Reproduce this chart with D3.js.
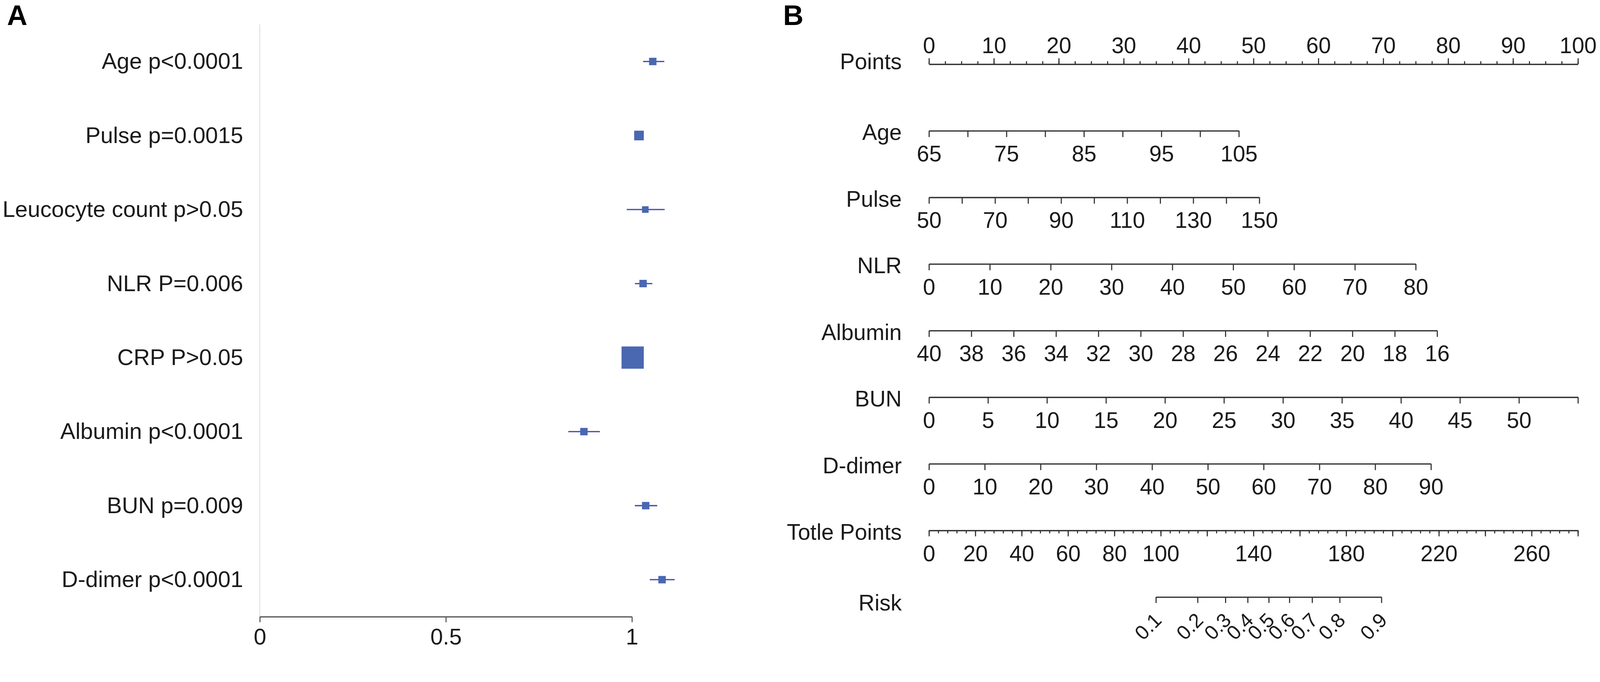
<!DOCTYPE html>
<html>
<head>
<meta charset="utf-8">
<script src="https://cdn.jsdelivr.net/npm/d3@7"></script>
<style>
  html, body { margin: 0; padding: 0; width: 100%; height: 100%; overflow: hidden; background: #fff; }
  svg { display: block; width: 100vw; height: 100vh; font-family: "Liberation Sans", Arial, sans-serif; }
</style>
</head>
<body>
<svg id="chart" viewBox="0 0 4317 1745" preserveAspectRatio="xMidYMin meet"></svg>
<script>
// ---- Panel A data: odds ratios with 95% CI ----
const forestLabels = ['Age p<0.0001', 'Pulse p=0.0015', 'Leucocyte count p>0.05', 'NLR P=0.006',
  'CRP P>0.05', 'Albumin p<0.0001', 'BUN p=0.009', 'D-dimer p<0.0001'];
const forestOR = [1.056, 1.019, 1.036, 1.030, 1.002, 0.871, 1.037, 1.081];
const forestLow = [1.030, 1.010, 0.986, 1.008, 0.990, 0.829, 1.008, 1.048];
const forestHigh = [1.087, 1.028, 1.088, 1.055, 1.015, 0.914, 1.068, 1.115];
const forestWeight = [1, 1.7, 0.8, 1, 9, 1, 1, 1];
const forestTicks = [0, 0.5, 1];

// ---- Panel B data: nomogram ----
const pointTicks = [0, 10, 20, 30, 40, 50, 60, 70, 80, 90, 100];
const pointMinorStep = 2.5;
const nomoNames = ['Age', 'Pulse', 'NLR', 'Albumin', 'BUN', 'D-dimer'];
const nomoDomains = [[65, 105], [50, 150], [0, 80], [40, 16], [0, 55], [0, 90]];
const nomoMaxPoints = [47.75, 50.9, 75.0, 78.3, 100, 77.35];
const nomoTicks = [
  [65, 70, 75, 80, 85, 90, 95, 100, 105],
  [50, 60, 70, 80, 90, 100, 110, 120, 130, 140, 150],
  [0, 10, 20, 30, 40, 50, 60, 70, 80],
  [40, 38, 36, 34, 32, 30, 28, 26, 24, 22, 20, 18, 16],
  [0, 5, 10, 15, 20, 25, 30, 35, 40, 45, 50, 55],
  [0, 10, 20, 30, 40, 50, 60, 70, 80, 90]
];
const nomoLabels = [
  [65, 75, 85, 95, 105],
  [50, 70, 90, 110, 130, 150],
  [0, 10, 20, 30, 40, 50, 60, 70, 80],
  [40, 38, 36, 34, 32, 30, 28, 26, 24, 22, 20, 18, 16],
  [0, 5, 10, 15, 20, 25, 30, 35, 40, 45, 50],
  [0, 10, 20, 30, 40, 50, 60, 70, 80, 90]
];
const totalDomain = [0, 280];
const totalTicks = [0, 20, 40, 60, 80, 100, 120, 140, 160, 180, 200, 220, 240, 260, 280];
const totalMinorStep = 4;
const totalLabels = [0, 20, 40, 60, 80, 100, 140, 180, 220, 260];
const riskTicks = [0.1, 0.2, 0.3, 0.4, 0.5, 0.6, 0.7, 0.8, 0.9];
const riskTotalPoints = [97.9, 115.9, 127.9, 137.5, 146.6, 155.5, 165.3, 177.2, 195.2];

const svg = d3.select('#chart');
const textColor = '#1a1a1a';
const lineColor = '#333';

// panel letters
svg.append('text').attr('x', 19).attr('y', 67)
  .attr('font-size', 76).attr('font-weight', 'bold').attr('fill', '#000').text('A');
svg.append('text').attr('x', 2113).attr('y', 67)
  .attr('font-size', 76).attr('font-weight', 'bold').attr('fill', '#000').text('B');

// restyle a d3 axis group
function styleAxis(g, size, color, width) {
  g.attr('font-size', size).attr('font-family', null).attr('color', color);
  g.select('.domain').attr('stroke-width', width + 0.5);
  g.selectAll('.tick line').attr('stroke-width', width);
  g.selectAll('.tick text').attr('fill', textColor);
}

// ================= Panel A: forest plot =================
const fx = d3.scaleLinear().domain([0, 1]).range([701, 1705]);
const fy = d3.scaleBand().domain(forestLabels).range([66, 1663]);
const boxSize = d3.scaleSqrt().domain([0, 9]).range([0, 60]);

const rows = forestLabels.map((label, i) => ({
  label, or: forestOR[i], low: forestLow[i], high: forestHigh[i], w: forestWeight[i]
}));

const gA = svg.append('g');

gA.append('line')
  .attr('x1', fx(0)).attr('x2', fx(0))
  .attr('y1', fy.range()[0]).attr('y2', fy.range()[1])
  .attr('stroke', '#d9d9d9').attr('stroke-width', 2);

gA.append('g')
  .attr('transform', `translate(0,${fy.range()[1]})`)
  .call(d3.axisBottom(fx).tickValues(forestTicks).tickFormat(d => d)
    .tickSize(15).tickSizeOuter(0).tickPadding(17))
  .call(g => styleAxis(g, 61, '#5a5a5a', 3));

const cy = d => fy(d.label) + fy.bandwidth() / 2;

gA.append('g').selectAll('text')
  .data(rows)
  .join('text')
  .attr('x', 656)
  .attr('y', cy)
  .attr('dy', '0.33em')
  .attr('text-anchor', 'end')
  .attr('font-size', 61)
  .attr('fill', textColor)
  .text(d => d.label);

gA.append('g').selectAll('line')
  .data(rows)
  .join('line')
  .attr('x1', d => fx(d.low))
  .attr('x2', d => fx(d.high))
  .attr('y1', cy)
  .attr('y2', cy)
  .attr('stroke', '#4b50b4')
  .attr('stroke-width', 3.5);

gA.append('g').selectAll('rect')
  .data(rows)
  .join('rect')
  .attr('x', d => fx(d.or) - boxSize(d.w) / 2)
  .attr('y', d => cy(d) - boxSize(d.w) / 2)
  .attr('width', d => boxSize(d.w))
  .attr('height', d => boxSize(d.w))
  .attr('fill', '#4a67b1');

// ================= Panel B: nomogram =================
const px = d3.scaleLinear().domain([0, 100]).range([2506.5, 4257.5]);
const rowNames = ['Points', ...nomoNames, 'Totle Points', 'Risk'];
const ry = d3.scalePoint().domain(rowNames).range([173, 1610]);

const gB = svg.append('g');

// row titles
gB.append('g').selectAll('text')
  .data(rowNames)
  .join('text')
  .attr('x', 2433)
  .attr('y', d => ry(d))
  .attr('dy', d => d === 'Points' ? '0.22em' : (d === 'Risk' ? '0.6em' : '0.42em'))
  .attr('text-anchor', 'end')
  .attr('font-size', 60)
  .attr('fill', textColor)
  .text(d => d);

// Points scale (ticks on top)
gB.append('g')
  .attr('transform', `translate(0,${ry('Points')})`)
  .call(d3.axisTop(px).tickValues(d3.range(0, 100 + 1e-9, pointMinorStep))
    .tickFormat('').tickSize(8).tickSizeOuter(0))
  .call(g => styleAxis(g, 60, lineColor, 3));
gB.append('g')
  .attr('transform', `translate(0,${ry('Points')})`)
  .call(d3.axisTop(px).tickValues(pointTicks).tickFormat(d => d)
    .tickSize(16).tickSizeOuter(0).tickPadding(14))
  .call(g => styleAxis(g, 60, lineColor, 3));

// predictor scales
nomoNames.forEach((name, i) => {
  const sc = d3.scaleLinear().domain(nomoDomains[i]).range([px(0), px(nomoMaxPoints[i])]);
  gB.append('g')
    .attr('transform', `translate(0,${ry(name)})`)
    .call(d3.axisBottom(sc).tickValues(nomoTicks[i])
      .tickFormat(d => nomoLabels[i].includes(d) ? d : '')
      .tickSize(17).tickSizeOuter(0).tickPadding(23))
    .call(g => styleAxis(g, 60, lineColor, 3));
});

// total points
const tx = d3.scaleLinear().domain(totalDomain).range(px.range());
gB.append('g')
  .attr('transform', `translate(0,${ry('Totle Points')})`)
  .call(d3.axisBottom(tx).tickValues(d3.range(0, totalDomain[1] + 1e-9, totalMinorStep))
    .tickFormat('').tickSize(8).tickSizeOuter(0))
  .call(g => styleAxis(g, 60, lineColor, 3));
gB.append('g')
  .attr('transform', `translate(0,${ry('Totle Points')})`)
  .call(d3.axisBottom(tx).tickValues(totalTicks)
    .tickFormat(d => totalLabels.includes(d) ? d : '')
    .tickSize(16).tickSizeOuter(0).tickPadding(24))
  .call(g => styleAxis(g, 60, lineColor, 3));

// risk
const rFirst = riskTotalPoints[0], rLast = riskTotalPoints[riskTotalPoints.length - 1];
const rx = d3.scaleLinear().domain([rFirst, rLast]).range([tx(rFirst), tx(rLast)]);
gB.append('g')
  .attr('transform', `translate(0,${ry('Risk')})`)
  .call(d3.axisBottom(rx).tickValues(riskTotalPoints)
    .tickFormat((d, i) => riskTicks[i])
    .tickSize(16).tickSizeOuter(0))
  .call(g => styleAxis(g, 54, lineColor, 3))
  .call(g => g.selectAll('.tick text')
    .attr('y', null).attr('dy', null)
    .attr('text-anchor', 'end')
    .attr('transform', 'translate(18,66) rotate(-45)'));
</script>
</body>
</html>
